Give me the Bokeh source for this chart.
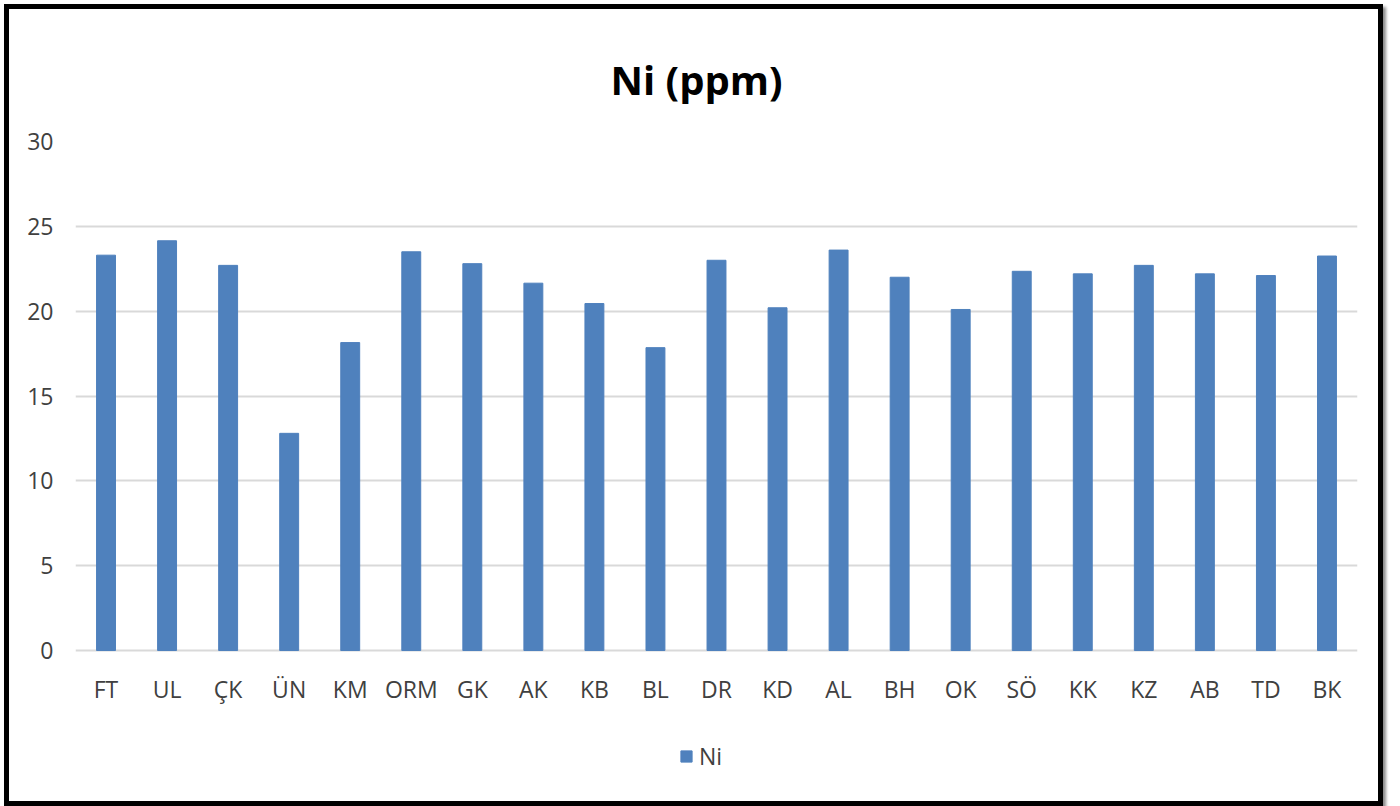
from bokeh.plotting import figure
from bokeh.models import ColumnDataSource, Legend, LegendItem, FactorRange, FixedTicker
from bokeh.embed import file_html
from bokeh.resources import INLINE

categories = ["FT", "UL", "ÇK", "ÜN", "KM", "ORM", "GK", "AK", "KB", "BL", "DR",
              "KD", "AL", "BH", "OK", "SÖ", "KK", "KZ", "AB", "TD", "BK"]
ni_values = [23.3, 24.15, 22.7, 12.8, 18.15, 23.5, 22.8, 21.65, 20.45, 17.85, 23.0,
             20.2, 23.6, 22.0, 20.1, 22.35, 22.2, 22.7, 22.2, 22.1, 23.25]
y_ticks = [0, 5, 10, 15, 20, 25, 30]

BLUE = "#4F81BD"
FONT = "Open Sans"

src = ColumnDataSource(dict(cat=categories, val=ni_values))

# frame extends below zero to hold the axis labels and legend
p = figure(x_range=FactorRange(*categories), y_range=(-8.25, 30),
           width=1379, height=802,
           output_backend="svg", toolbar_location=None,
           min_border_left=66, min_border_right=31, min_border_top=132,
           min_border_bottom=21, title="Ni (ppm)")
p.styles = {"margin-left": "4px", "margin-top": "4px",
            "border": "5px solid black", "box-shadow": "3px 3px 3px #8a8a8a"}

r = p.vbar(x="cat", top="val", width=0.31, source=src, fill_color=BLUE,
           line_color=BLUE)

p.title.text_font = FONT
p.title.text_font_size = "40px"
p.title.text_font_style = "bold"
p.title.text_color = "black"
p.title.align = "left"
p.title.offset = 535
p.title.standoff = 70

p.outline_line_color = None
p.xgrid.grid_line_color = None
p.ygrid.grid_line_color = "#D9D9D9"
p.ygrid.grid_line_width = 2
p.yaxis.ticker = FixedTicker(ticks=y_ticks)
p.xaxis.fixed_location = 0

for ax in (p.xaxis, p.yaxis):
    ax.axis_line_color = None
    ax.major_tick_line_color = None
    ax.minor_tick_line_color = None
    ax.major_label_text_font = FONT
    ax.major_label_text_font_size = "23px"
    ax.major_label_text_color = "#404040"

p.yaxis.major_label_standoff = 16
p.xaxis.major_label_standoff = 16

legend = Legend(items=[LegendItem(label="Ni", renderers=[r])],
                orientation="horizontal", location=(604, 18),
                label_text_font=FONT, label_text_font_size="23px",
                label_text_color="#404040", glyph_width=14, glyph_height=14,
                border_line_color=None, background_fill_alpha=0,
                margin=0, padding=0, label_standoff=6, label_height=30)
p.add_layout(legend, "center")

open("out.html", "w").write(file_html(p, INLINE))
